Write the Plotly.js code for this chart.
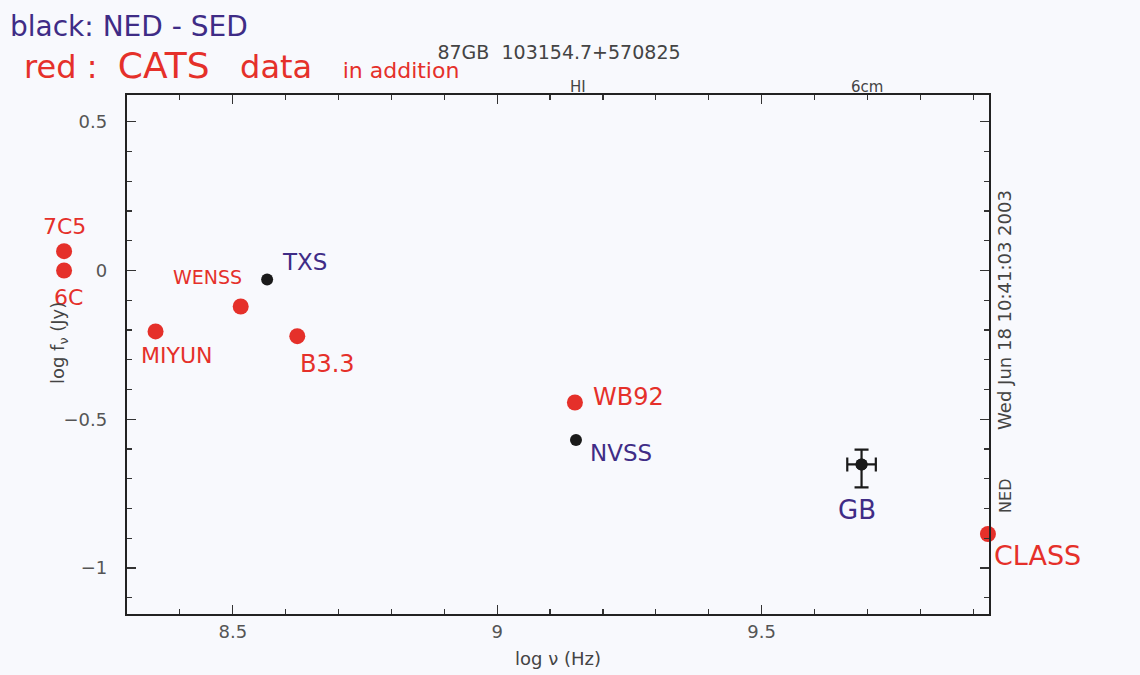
<!DOCTYPE html>
<html>
<head>
<meta charset="utf-8">
<script src="https://cdn.plot.ly/plotly-3.0.1.min.js"></script>
<style>
  html, body { margin: 0; padding: 0; background: #f8f9fd; }
  #chart { width: 1140px; height: 675px; }
</style>
</head>
<body>
<div id="chart"></div>
<script>
// ---- data ----
const catsNames = ['7C5', '6C', 'MIYUN', 'WENSS', 'B3.3', 'WB92', 'CLASS'];
const catsLogNu = [8.181, 8.181, 8.354, 8.515, 8.622, 9.147, 9.928];
const catsLogF  = [0.065, 0.000, -0.205, -0.121, -0.221, -0.444, -0.886];

const nedNames = ['TXS', 'NVSS', 'GB'];
const nedLogNu = [8.565, 9.149, 9.689];
const nedLogF  = [-0.030, -0.570, -0.652];
const nedErrUp   = [null, null, 0.050];
const nedErrDown = [null, null, 0.077];
const nedErrNu   = [null, null, 0.027];

const bandNames = ['HI', '6cm'];
const bandLogNu = [9.152, 9.699];

const xTicks = [8.5, 9, 9.5];
const yTicks = [0.5, 0, -0.5, -1];
const xRange = [8.30, 9.93];
const yRange = [-1.155, 0.59];

// ---- layout geometry & styles ----
const W = 1140, H = 675;
const M = {l: 20, r: 151, t: 95, b: 61};
const frameLeftPx = 127;                 // left edge of the drawn frame
const plotW = W - M.l - M.r;
const frameDomain0 = (frameLeftPx - M.l) / plotW;
// data axis with the same scale as the frame axis, reaching left of the frame
const pxPerUnit = (plotW * (1 - frameDomain0)) / (xRange[1] - xRange[0]);
const dataXRange = [xRange[0] - (frameLeftPx - M.l) / pxPerUnit, xRange[1]];

const RED = '#e5302a';
const PURPLE = '#3f2c86';
const handFont = 'DejaVu Sans, sans-serif';
const printFont = 'DejaVu Sans, Liberation Sans, sans-serif';
const catsLabelStyle = {
  '7C5':   {dx: 0,   dy: -25, size: 22},
  '6C':    {dx: 4,   dy: 27,  size: 22},
  'MIYUN': {dx: 21,  dy: 24,  size: 22},
  'WENSS': {dx: -33, dy: -29, size: 19},
  'B3.3':  {dx: 30,  dy: 28,  size: 24},
  'WB92':  {dx: 54,  dy: -6,  size: 24},
  'CLASS': {dx: 50,  dy: 22,  size: 27}
};
const nedLabelStyle = {
  'TXS':  {dx: 37, dy: -17, size: 23},
  'NVSS': {dx: 45, dy: 13,  size: 23},
  'GB':   {dx: -5, dy: 46,  size: 26}
};

const annotations = [];
catsNames.forEach((n, i) => {
  const s = catsLabelStyle[n];
  annotations.push({
    x: catsLogNu[i], y: catsLogF[i], xref: 'x', yref: 'y',
    text: n, showarrow: false, xshift: s.dx, yshift: -s.dy,
    font: {family: handFont, size: s.size, color: RED}
  });
});
nedNames.forEach((n, i) => {
  const s = nedLabelStyle[n];
  annotations.push({
    x: nedLogNu[i], y: nedLogF[i], xref: 'x', yref: 'y',
    text: n, showarrow: false, xshift: s.dx, yshift: -s.dy,
    font: {family: handFont, size: s.size, color: PURPLE}
  });
});
bandNames.forEach((n, i) => {
  annotations.push({
    x: bandLogNu[i], y: 1, xref: 'x', yref: 'paper', yanchor: 'bottom', yshift: -3,
    text: n, showarrow: false,
    font: {family: printFont, size: 15, color: '#444'}
  });
});
// y axis title
annotations.push({
  x: 0, xref: 'paper', xshift: 45 - M.l, y: 0.522, yref: 'paper',
  text: 'log f<sub>ν</sub> (Jy)', textangle: -90, showarrow: false,
  font: {family: printFont, size: 18, color: '#444'}
});
// right-hand stamps
annotations.push({
  x: 1, xref: 'paper', xshift: 28, y: 0.585, yref: 'paper',
  text: 'Wed Jun 18 10:41:03 2003', textangle: -90, showarrow: false,
  font: {family: printFont, size: 18, color: '#444'}
});
annotations.push({
  x: 1, xref: 'paper', xshift: 28, y: 0.19, yref: 'paper',
  text: 'NED', textangle: -90, showarrow: false,
  font: {family: printFont, size: 16, color: '#444'}
});
// handwritten legend notes
annotations.push({
  x: 0, xref: 'paper', xshift: 8 - M.l, y: 1, yref: 'paper', yshift: M.t - 26,
  text: 'black: NED - SED', showarrow: false,
  xanchor: 'left', yanchor: 'middle',
  font: {family: handFont, size: 28, color: PURPLE}
});
annotations.push({
  x: 0, xref: 'paper', xshift: 22 - M.l, y: 1, yref: 'paper', yshift: M.t - 65,
  text: "red :  <span style='font-size:36px'>CATS</span>   data   <span style='font-size:22px'>in addition</span>",
  showarrow: false, xanchor: 'left', yanchor: 'middle',
  font: {family: handFont, size: 32, color: RED}
});

// points of the NED series that carry error bars
const errIdx = nedErrUp.map((v, i) => (v != null ? i : -1)).filter(i => i >= 0);

const traces = [
  {
    type: 'scatter', mode: 'markers', name: 'CATS',
    x: catsLogNu, y: catsLogF, xaxis: 'x', yaxis: 'y', cliponaxis: false,
    marker: {color: RED, size: 16, line: {width: 0}}
  },
  {
    type: 'scatter', mode: 'markers', name: 'NED',
    x: nedLogNu, y: nedLogF, xaxis: 'x', yaxis: 'y', cliponaxis: false,
    marker: {color: '#1a1a1a', size: 12}
  },
  {
    type: 'scatter', mode: 'markers', name: 'NED errors',
    x: errIdx.map(i => nedLogNu[i]), y: errIdx.map(i => nedLogF[i]),
    xaxis: 'x', yaxis: 'y', cliponaxis: false,
    marker: {color: '#1a1a1a', size: 12},
    error_y: {type: 'data', symmetric: false,
              array: errIdx.map(i => nedErrUp[i]), arrayminus: errIdx.map(i => nedErrDown[i]),
              color: '#1a1a1a', thickness: 2.2, width: 7},
    error_x: {type: 'data', array: errIdx.map(i => nedErrNu[i]), color: '#1a1a1a', thickness: 2.2, width: 7}
  },
  // empty trace so the frame subplot exists
  {type: 'scatter', mode: 'markers', x: [], y: [], xaxis: 'x2', yaxis: 'y2', hoverinfo: 'skip'}
];

const axisFont = {family: printFont, size: 18, color: '#555'};
const minorTicks = {dtick: 0.1, tick0: 0, ticks: 'inside', ticklen: 5, tickwidth: 1.2, tickcolor: '#333', showgrid: false};

const layout = {
  width: W, height: H,
  margin: M,
  paper_bgcolor: '#f8f9fd', plot_bgcolor: 'rgba(0,0,0,0)',
  showlegend: false,
  title: {
    text: '87GB  103154.7+570825',
    x: 559 / W, xanchor: 'center', y: 1 - 52 / H, yanchor: 'middle',
    font: {family: printFont, size: 19, color: '#444'}
  },
  // hidden data axes (wider in x so that points left of the frame are kept)
  xaxis: {domain: [0, 1], range: dataXRange, anchor: 'y', visible: false, showgrid: false, zeroline: false},
  yaxis: {domain: [0, 1], range: yRange, anchor: 'x', visible: false, showgrid: false, zeroline: false},
  // visible frame axes
  xaxis2: {
    domain: [frameDomain0, 1], anchor: 'y2',
    range: xRange,
    tickvals: xTicks, ticktext: xTicks.map(String),
    showgrid: false, zeroline: false,
    showline: true, linewidth: 2.2, linecolor: '#222', mirror: 'ticks',
    ticks: 'inside', ticklen: 9, tickwidth: 1.3, tickcolor: '#333',
    minor: minorTicks,
    tickfont: axisFont,
    title: {text: 'log ν (Hz)', font: {family: printFont, size: 18, color: '#444'}, standoff: 12}
  },
  yaxis2: {
    domain: [0, 1], anchor: 'x2',
    range: yRange,
    tickvals: yTicks, ticktext: yTicks.map(v => v < 0 ? '\u2212' + Math.abs(v) : String(v)),
    showgrid: false, zeroline: false,
    showline: true, linewidth: 2.2, linecolor: '#222', mirror: 'ticks',
    ticks: 'inside', ticklen: 9, tickwidth: 1.3, tickcolor: '#333',
    minor: minorTicks,
    tickfont: axisFont, ticklabelstandoff: 14
  },
  annotations: annotations
};

Plotly.newPlot('chart', traces, layout, {displayModeBar: false, staticPlot: true});
</script>
</body>
</html>
